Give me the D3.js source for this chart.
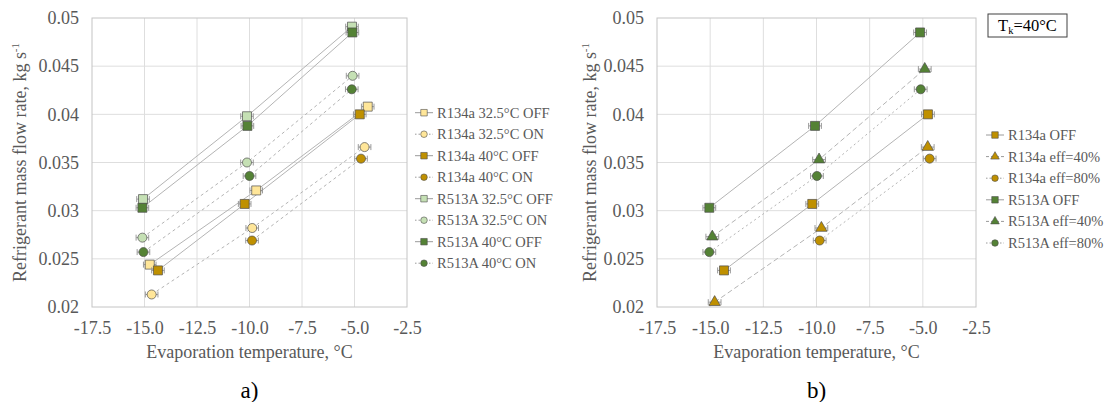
<!DOCTYPE html>
<html><head><meta charset="utf-8">
<script src="https://cdn.jsdelivr.net/npm/d3@7"></script>
<style>body{margin:0;background:#fff}svg{display:block}text{font-family:"Liberation Serif","Times New Roman",serif}</style>
</head><body><svg id="c" width="1114" height="402"></svg>
<script>
// ---------- data ----------
const xTicks = [-17.5,-15,-12.5,-10,-7.5,-5,-2.5];
const yTicks = [0.02,0.025,0.03,0.035,0.04,0.045,0.05];
const xTickLabels = ["-17.5","-15.0","-12.5","-10.0","-7.5","-5.0","-2.5"];
const yTickLabels = ["0.02","0.025","0.03","0.035","0.04","0.045","0.05"];

// chart a
const seriesNamesA = ["R134a 32.5°C OFF","R134a 32.5°C ON","R134a 40°C OFF","R134a 40°C ON","R513A 32.5°C OFF","R513A 32.5°C ON","R513A 40°C OFF","R513A 40°C ON"];
const tA_R134a_325_OFF = [-14.75,-9.68,-4.37];  const mA_R134a_325_OFF = [0.0244,0.0321,0.0408];
const tA_R134a_325_ON  = [-14.66,-9.87,-4.52];  const mA_R134a_325_ON  = [0.0213,0.0282,0.0366];
const tA_R134a_40_OFF  = [-14.36,-10.23,-4.75]; const mA_R134a_40_OFF  = [0.0238,0.0307,0.0400];
const tA_R134a_40_ON   = [-9.88,-4.69];         const mA_R134a_40_ON   = [0.0269,0.0354];
const tA_R513A_325_OFF = [-15.07,-10.12,-5.12]; const mA_R513A_325_OFF = [0.0312,0.0398,0.0491];
const tA_R513A_325_ON  = [-15.10,-10.12,-5.09]; const mA_R513A_325_ON  = [0.0272,0.0350,0.0440];
const tA_R513A_40_OFF  = [-15.10,-10.10,-5.10]; const mA_R513A_40_OFF  = [0.0303,0.0388,0.0485];
const tA_R513A_40_ON   = [-15.05,-10.00,-5.13]; const mA_R513A_40_ON   = [0.0257,0.0336,0.0426];

// chart b
const seriesNamesB = ["R134a OFF","R134a eff=40%","R134a eff=80%","R513A OFF","R513A eff=40%","R513A eff=80%"];
const tB_R134a_OFF   = [-14.35,-10.20,-4.76]; const mB_R134a_OFF   = [0.0238,0.0307,0.0400];
const tB_R134a_eff40 = [-14.79,-9.77,-4.77];  const mB_R134a_eff40 = [0.0205,0.0282,0.0366];
const tB_R134a_eff80 = [-9.85,-4.68];         const mB_R134a_eff80 = [0.0269,0.0354];
const tB_R513A_OFF   = [-15.04,-10.07,-5.13]; const mB_R513A_OFF   = [0.0303,0.0388,0.0485];
const tB_R513A_eff40 = [-14.90,-9.88,-4.91];  const mB_R513A_eff40 = [0.0273,0.0353,0.0447];
const tB_R513A_eff80 = [-15.04,-9.98,-5.10];  const mB_R513A_eff80 = [0.0257,0.0336,0.0426];

const tempErr = 0.3;

// ---------- styles ----------
const C_Y_LIGHT="#ffe699", C_Y_DARK="#bf9000", C_G_LIGHT="#c5e0b4", C_G_DARK="#548235";
const zip=(t,m)=>t.map((v,i)=>({t:v,m:m[i]}));
const seriesA = [
  {name:seriesNamesA[0],pts:zip(tA_R134a_325_OFF,mA_R134a_325_OFF),fill:C_Y_LIGHT,sym:d3.symbolSquare,dash:null},
  {name:seriesNamesA[1],pts:zip(tA_R134a_325_ON,mA_R134a_325_ON),fill:C_Y_LIGHT,sym:d3.symbolCircle,dash:"3,3"},
  {name:seriesNamesA[2],pts:zip(tA_R134a_40_OFF,mA_R134a_40_OFF),fill:C_Y_DARK,sym:d3.symbolSquare,dash:null},
  {name:seriesNamesA[3],pts:zip(tA_R134a_40_ON,mA_R134a_40_ON),fill:C_Y_DARK,sym:d3.symbolCircle,dash:"3,3"},
  {name:seriesNamesA[4],pts:zip(tA_R513A_325_OFF,mA_R513A_325_OFF),fill:C_G_LIGHT,sym:d3.symbolSquare,dash:null},
  {name:seriesNamesA[5],pts:zip(tA_R513A_325_ON,mA_R513A_325_ON),fill:C_G_LIGHT,sym:d3.symbolCircle,dash:"3,3"},
  {name:seriesNamesA[6],pts:zip(tA_R513A_40_OFF,mA_R513A_40_OFF),fill:C_G_DARK,sym:d3.symbolSquare,dash:null},
  {name:seriesNamesA[7],pts:zip(tA_R513A_40_ON,mA_R513A_40_ON),fill:C_G_DARK,sym:d3.symbolCircle,dash:"3,3"}
];
const seriesB = [
  {name:seriesNamesB[0],pts:zip(tB_R134a_OFF,mB_R134a_OFF),fill:C_Y_DARK,sym:d3.symbolSquare,dash:null},
  {name:seriesNamesB[1],pts:zip(tB_R134a_eff40,mB_R134a_eff40),fill:C_Y_DARK,sym:d3.symbolTriangle,dash:"5,3"},
  {name:seriesNamesB[2],pts:zip(tB_R134a_eff80,mB_R134a_eff80),fill:C_Y_DARK,sym:d3.symbolCircle,dash:"2,3"},
  {name:seriesNamesB[3],pts:zip(tB_R513A_OFF,mB_R513A_OFF),fill:C_G_DARK,sym:d3.symbolSquare,dash:null},
  {name:seriesNamesB[4],pts:zip(tB_R513A_eff40,mB_R513A_eff40),fill:C_G_DARK,sym:d3.symbolTriangle,dash:"5,3"},
  {name:seriesNamesB[5],pts:zip(tB_R513A_eff80,mB_R513A_eff80),fill:C_G_DARK,sym:d3.symbolCircle,dash:"2,3"}
];

const svg=d3.select("#c");
const TXT="#595959";
function symSize(sym,big){
  if(sym===d3.symbolSquare) return big?81:42;
  if(sym===d3.symbolCircle) return big?64:34;
  return big?56:32;
}

function drawChart(o){
  const x=d3.scaleLinear().domain([-17.5,-2.5]).range([o.left,o.right]);
  const y=d3.scaleLinear().domain([0.02,0.05]).range([o.bottom,o.top]);
  const g=svg.append("g");
  // grid
  g.selectAll(".gx").data(xTicks.slice(1,-1)).join("line")
    .attr("x1",d=>x(d)).attr("x2",d=>x(d)).attr("y1",o.top).attr("y2",o.bottom)
    .attr("stroke","#dedede").attr("stroke-width",1);
  g.selectAll(".gy").data(yTicks.slice(1,-1)).join("line")
    .attr("x1",o.left).attr("x2",o.right).attr("y1",d=>y(d)).attr("y2",d=>y(d))
    .attr("stroke","#dedede").attr("stroke-width",1);
  g.append("rect").attr("x",o.left).attr("y",o.top).attr("width",o.right-o.left).attr("height",o.bottom-o.top)
    .attr("fill","none").attr("stroke","#c4c4c4").attr("stroke-width",1);
  // axes (tick labels via d3 axes)
  const ax=g.append("g").attr("transform",`translate(0,${o.bottom})`)
    .call(d3.axisBottom(x).tickValues(xTicks).tickFormat((d,i)=>xTickLabels[i]).tickSize(0).tickPadding(14));
  const ay=g.append("g").attr("transform",`translate(${o.left},0)`)
    .call(d3.axisLeft(y).tickValues(yTicks).tickFormat((d,i)=>yTickLabels[i]).tickSize(0).tickPadding(13));
  [ax,ay].forEach(a=>{a.select(".domain").remove();a.selectAll("text").attr("font-size",18).attr("fill",TXT).attr("font-family",'"Liberation Serif",serif');});
  // titles
  g.append("text").attr("x",(o.left+o.right)/2).attr("y",o.bottom+51).attr("text-anchor","middle")
    .attr("font-size",18).attr("fill",TXT).text("Evaporation temperature, °C");
  const yt=g.append("text").attr("transform",`translate(${o.ytx},${(o.top+o.bottom)/2}) rotate(-90)`)
    .attr("text-anchor","middle").attr("dy","0.35em").attr("font-size",18).attr("fill",TXT);
  yt.append("tspan").text("Refrigerant mass flow rate, kg s");
  yt.append("tspan").attr("font-size",11).attr("dy","-7").text("-1");
  // series lines
  const line=d3.line().x(d=>x(d.t)).y(d=>y(d.m));
  o.series.forEach(s=>{
    g.append("path").datum(s.pts).attr("d",line).attr("fill","none")
      .attr("stroke","#b4b4b4").attr("stroke-width",1).attr("stroke-dasharray",s.dash);
  });
  // error bars + markers
  o.series.forEach(s=>{
    const eg=g.append("g");
    s.pts.forEach(p=>{
      const x1=x(p.t-tempErr),x2=x(p.t+tempErr),yy=y(p.m);
      eg.append("line").attr("x1",x1).attr("x2",x2).attr("y1",yy).attr("y2",yy).attr("stroke","#9a9a9a").attr("stroke-width",1);
      [x1,x2].forEach(xx=>eg.append("line").attr("x1",xx).attr("x2",xx).attr("y1",yy-3).attr("y2",yy+3).attr("stroke","#9a9a9a").attr("stroke-width",1));
    });
    g.append("g").selectAll("path").data(s.pts).join("path")
      .attr("transform",d=>`translate(${x(d.t)},${y(d.m)})`)
      .attr("d",d3.symbol().type(s.sym).size(symSize(s.sym,true)))
      .attr("fill",s.fill).attr("stroke","#4d4d4d").attr("stroke-width",0.7);
  });
  // legend
  const lg=g.append("g");
  o.series.forEach((s,i)=>{
    const ly=o.legY+i*o.legDy;
    lg.append("line").attr("x1",o.legX-9).attr("x2",o.legX+9).attr("y1",ly).attr("y2",ly)
      .attr("stroke","#9a9a9a").attr("stroke-width",1).attr("stroke-dasharray",s.dash?(s.dash==="5,3"?"3,2":"1.5,2"):null);
    lg.append("path").attr("transform",`translate(${o.legX},${ly})`)
      .attr("d",d3.symbol().type(s.sym).size(symSize(s.sym,false)))
      .attr("fill",s.fill).attr("stroke","#4d4d4d").attr("stroke-width",0.6);
    lg.append("text").attr("x",o.legX+13).attr("y",ly).attr("dy","0.35em")
      .attr("font-size",14.5).attr("fill",TXT).text(s.name);
  });
  // panel label
  svg.append("text").attr("x",(o.left+o.right)/2).attr("y",398).attr("text-anchor","middle")
    .attr("font-size",23).attr("fill","#000").text(o.label);
}

drawChart({left:92,right:407,top:18,bottom:307,series:seriesA,legX:424,legY:112.7,legDy:21.5,ytx:20,label:"a)"});
drawChart({left:657,right:976,top:18,bottom:307,series:seriesB,legX:995,legY:135,legDy:21.6,ytx:590,label:"b)"});

// Tk box
const box=svg.append("g");
box.append("rect").attr("x",988).attr("y",14).attr("width",79).attr("height",23).attr("fill","#fff").attr("stroke","#404040").attr("stroke-width",1);
const tk=box.append("text").attr("x",1027.5).attr("y",31).attr("text-anchor","middle").attr("font-size",16.5).attr("fill","#000");
tk.append("tspan").text("T");
tk.append("tspan").attr("font-size",10.5).attr("dy",3).text("k");
tk.append("tspan").attr("dy",-3).text("=40°C");
</script></body></html>
